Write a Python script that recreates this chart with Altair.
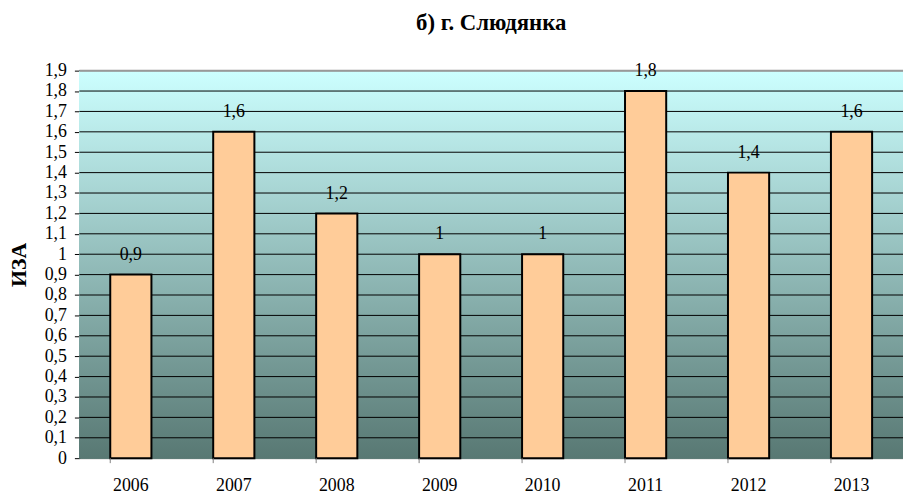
import altair as alt
import pandas as pd

years = ["2006", "2007", "2008", "2009", "2010", "2011", "2012", "2013"]
values = [0.9, 1.6, 1.2, 1.0, 1.0, 1.8, 1.4, 1.6]
labels = ["0,9", "1,6", "1,2", "1", "1", "1,8", "1,4", "1,6"]
y_ticks = [round(i * 0.1, 1) for i in range(0, 20)]

W, H = 831, 391
FONT = "Liberation Serif"

df = pd.DataFrame({"year": years, "value": values, "label": labels})
grid_df = pd.DataFrame({"value": y_ticks[1:]})

xscale = alt.Scale(paddingInner=0.6, paddingOuter=0.3)
yscale = alt.Scale(domain=[0, 1.9], nice=False)

y_axis = alt.Axis(title="ИЗА", values=y_ticks, grid=False, labelOverlap=False,
                  labelExpr="replace(toString(round(datum.value*10)/10), '.', ',')",
                  labelFont=FONT, labelFontSize=18, labelColor="black",
                  tickSize=5, tickColor="black", labelPadding=8,
                  domainColor="black", domainWidth=1.5,
                  titleFont=FONT, titleFontSize=22, titleFontWeight="bold",
                  titleColor="black", titlePadding=14)
x_axis = alt.Axis(title=None, ticks=False, labelAngle=0, labelPadding=19,
                  labelFont=FONT, labelFontSize=18, labelColor="black",
                  domainColor="#808080", domainWidth=1)

bg = alt.Chart(df).mark_rect(
    color=alt.Gradient(
        gradient="linear",
        stops=[alt.GradientStop(color="#CCFFFF", offset=0),
               alt.GradientStop(color="#587873", offset=1)],
        x1=0, x2=0, y1=0, y2=1,
    )
).encode(x=alt.value(0), x2=alt.value(W), y=alt.value(0), y2=alt.value(H))

grid = alt.Chart(grid_df).mark_rule(color="black", strokeWidth=1).encode(
    y=alt.Y("value:Q", scale=yscale, axis=y_axis),
    x=alt.value(0), x2=alt.value(W),
)

top = alt.Chart(pd.DataFrame({"value": [1.9]})).mark_rule(color="#999999", strokeWidth=2).encode(
    y=alt.Y("value:Q", scale=yscale, axis=y_axis),
    x=alt.value(0), x2=alt.value(W),
)

bars = alt.Chart(df).mark_bar(fill="#FFCC99", stroke="black", strokeWidth=2).encode(
    x=alt.X("year:N", scale=xscale, sort=years, axis=x_axis),
    y=alt.Y("value:Q", scale=yscale, axis=y_axis),
)

text = alt.Chart(df).mark_text(font=FONT, fontSize=18, baseline="alphabetic", dy=-15,
                               color="black").encode(
    x=alt.X("year:N", sort=years, axis=x_axis),
    y=alt.Y("value:Q", scale=yscale, axis=y_axis),
    text="label:N",
)

ticks = alt.Chart(df).mark_rule(color="#808080", strokeWidth=1).encode(
    x=alt.X("year:N", sort=years, bandPosition=0, axis=x_axis),
    y=alt.value(H), y2=alt.value(H + 5),
)

chart = alt.layer(bg, grid, top, bars, text, ticks).properties(
    width=W, height=H,
    title=alt.TitleParams("б) г. Слюдянка", font=FONT, fontSize=23, fontWeight="bold",
                          anchor="middle", color="black", offset=27),
    autosize=alt.AutoSizeParams(type="none"),
    padding={"left": 72, "top": 61, "right": 0, "bottom": 40},
).configure_view(stroke=None).configure_axis(labelOverlap=False)

chart.save("out.html", embed_options={"renderer": "svg", "actions": False})
